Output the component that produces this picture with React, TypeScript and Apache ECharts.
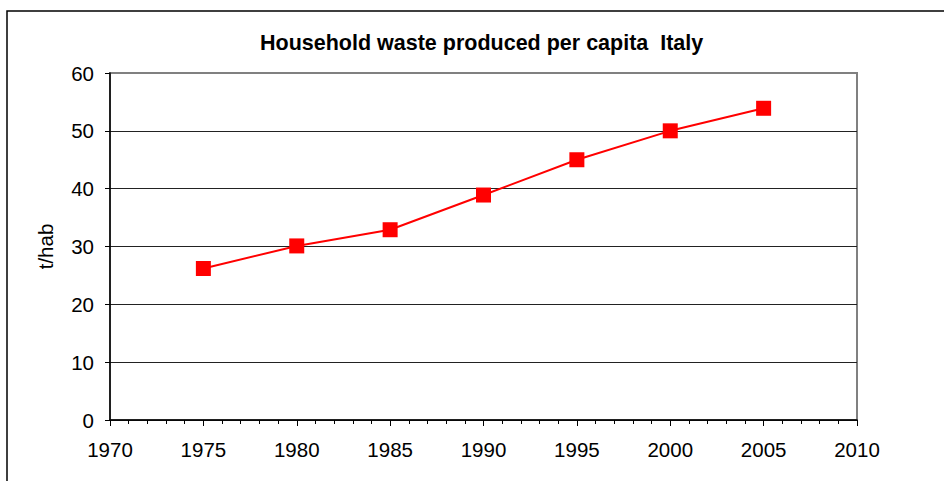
import React, { useEffect, useRef } from "react";
import * as echarts from "echarts";

const years = [1975, 1980, 1985, 1990, 1995, 2000, 2005];
const wastePerCapita = [26.2, 30.1, 32.9, 38.9, 45.0, 50.0, 53.9];
const titleText = "Household waste produced per capita  Italy";
const yAxisName = "t/hab";

export default function App() {
  const ref = useRef<HTMLDivElement>(null);
  useEffect(() => {
    if (!ref.current) return;
    const chart = echarts.init(ref.current, null, { renderer: "svg" });
    const font = "'Liberation Sans', Arial, sans-serif";
    chart.setOption({
      animation: false,
      backgroundColor: "#ffffff",
      title: {
        text: titleText,
        left: 260,
        top: 32,
        padding: 0,
        textStyle: { fontFamily: font, fontSize: 21.5, fontWeight: "bold", color: "#000" },
      },
      grid: {
        left: 110,
        top: 73,
        right: 87,
        bottom: 61,
        show: true,
        borderColor: "#808080",
        borderWidth: 2,
        backgroundColor: "transparent",
      },
      graphic: [
        {
          type: "rect",
          shape: { x: 7, y: 11, width: 1000, height: 600 },
          style: { fill: "none", stroke: "#000", lineWidth: 1.5 },
          silent: true,
          z: 100,
        },
      ],
      xAxis: {
        type: "value",
        min: 1970,
        max: 2010,
        interval: 5,
        axisLine: { show: true, lineStyle: { color: "#000", width: 1.5 } },
        axisTick: { show: true, length: 6, lineStyle: { color: "#000", width: 1 } },
        minorTick: { show: true, splitNumber: 5, length: 4, lineStyle: { color: "#000", width: 1 } },
        splitLine: { show: false },
        axisLabel: {
          fontFamily: font,
          fontSize: 20.5,
          color: "#000",
          margin: 19,
          formatter: (v: number) => String(v),
        },
      },
      yAxis: {
        type: "value",
        min: 0,
        max: 60,
        interval: 10,
        name: yAxisName,
        nameLocation: "middle",
        nameGap: 54,
        nameRotate: 90,
        nameTextStyle: { fontFamily: font, fontSize: 20.5, color: "#000" },
        axisLine: { show: true, lineStyle: { color: "#000", width: 1.5 } },
        axisTick: { show: true, length: 5, lineStyle: { color: "#000", width: 1 } },
        splitLine: {
          show: true,
          lineStyle: {
            color: ["#222", "#222", "#222", "#222", "#222", "#222", "#808080"],
            width: 1,
          },
        },
        axisLabel: { fontFamily: font, fontSize: 20.5, color: "#000", margin: 16 },
      },
      series: [
        {
          type: "line",
          data: years.map((y, i) => [y, wastePerCapita[i]]),
          symbol: "rect",
          symbolSize: 15,
          itemStyle: { color: "#ff0000" },
          lineStyle: { color: "#ff0000", width: 2 },
          z: 10,
        },
      ],
    });
    return () => chart.dispose();
  }, []);
  return (
    <div
      ref={ref}
      style={{ position: "fixed", left: 0, top: 0, width: 944, height: 481 }}
    />
  );
}
